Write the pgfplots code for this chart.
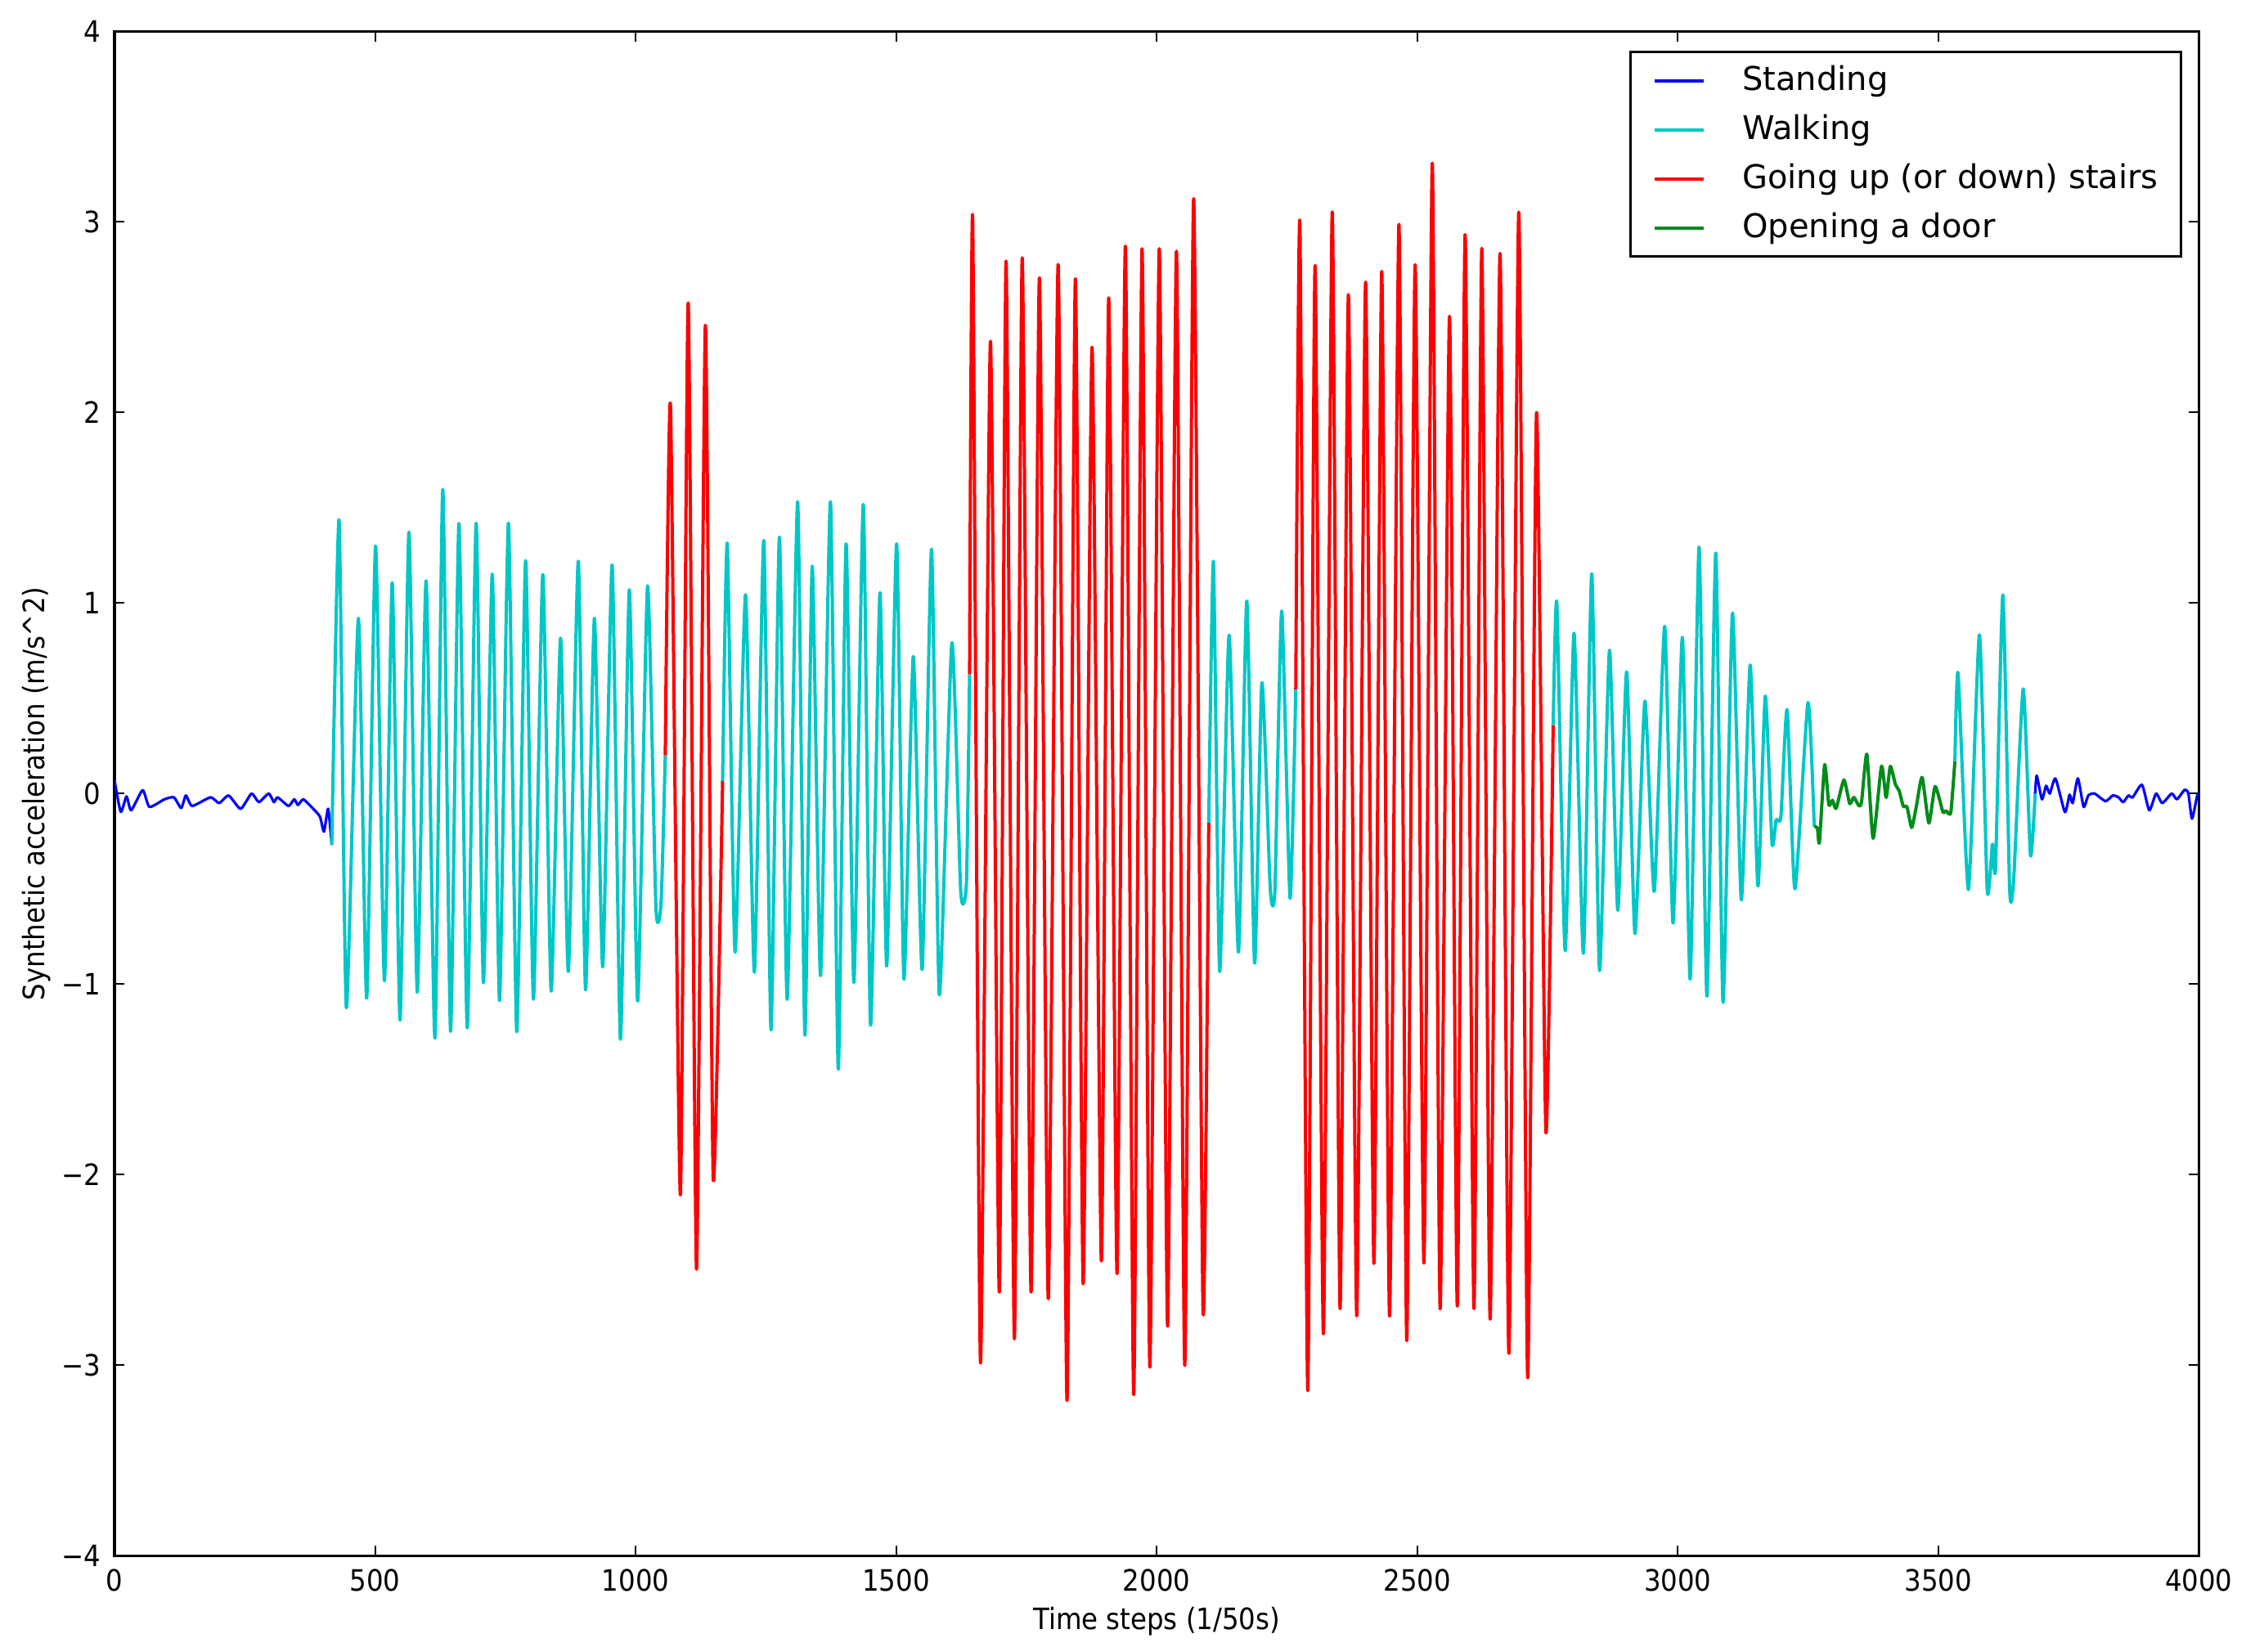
\documentclass[border=0pt]{standalone}
\usepackage{fontspec}
\setmainfont{DejaVu Sans}
\newfontfamily\condfont{DejaVu Sans Condensed}
\usepackage{pgfplots}
\pgfplotsset{compat=1.18}
\definecolor{mplblue}{rgb}{0,0,1}
\definecolor{mplcyan}{rgb}{0,0.78,0.78}
\definecolor{mplred}{rgb}{1,0,0}
\definecolor{mplgreen}{rgb}{0,0.55,0.1}
\begin{document}
\begin{tikzpicture}
\path[use as bounding box] (-35pt,-29.25pt) rectangle (651.48pt,475.53pt);
\begin{axis}[
  scale only axis,
  width=637.05pt, height=465.9pt,
  xmin=0, xmax=4000, ymin=-4, ymax=4,
  xtick={0,500,1000,1500,2000,2500,3000,3500,4000},
  xticklabels={0,500,1000,1500,2000,2500,3000,3500,4000},
  ytick={-4,-3,-2,-1,0,1,2,3,4},
  yticklabels={−4,−3,−2,−1,0,1,2,3,4},
  tick align=inside,
  major tick length=3pt,
  tick style={black, line width=0.5pt},
  axis line style={black, line width=0.8pt},
  tick label style={font=\condfont\fontsize{9}{10}\selectfont, black},
  xticklabel style={yshift=-0.5pt},
  yticklabel style={xshift=-0.75pt},
  label style={font=\condfont\fontsize{9}{10}\selectfont, black},
  xlabel={Time steps (1/50s)},
  ylabel={Synthetic acceleration (m/s\textasciicircum 2)},
  xlabel style={at={(axis description cs:0.5,0)}, anchor=base, yshift=-22.5pt},
  ylabel style={at={(axis description cs:0,0.5)}, anchor=base, yshift=21.25pt},
  legend style={
    at={(1,1)}, anchor=north east, xshift=-5pt, yshift=-5.9pt,
    draw=black, line width=0.8pt, fill=white,
    inner xsep=7pt, inner ysep=4.2pt,
    font=\fontsize{10}{12}\selectfont,
    nodes={inner sep=0pt},
    row sep=5.9pt,
    /tikz/every odd column/.append style={column sep=11.25pt},
  },
  legend cell align=left,
  legend image code/.code={\draw[#1, line width=1pt] (0pt,0pt) -- (15pt,0pt);},
  every axis plot/.append style={smooth, tension=0.35, line width=1pt, line join=round},
]
% Standing (1)
\addplot[mplblue, line width=0.8pt] coordinates {
(0,0.07) (12,-0.096) (23,-0.015) (32,-0.088) (54,0.018) (67,-0.07) (96,-0.03) (114,-0.02) (128,-0.076) (137,-0.01) (149,-0.065) (184,-0.02) (201,-0.05) (219,-0.01) (242,-0.08) (263,0.0) (277,-0.045) (296,0.0) (306,-0.045) (313,-0.02) (334,-0.065) (345,-0.03) (352,-0.06) (362,-0.03) (376,-0.065) (394,-0.12) (402,-0.2) (410,-0.08) (417,-0.27)
};
\addlegendentry{Standing}
% Walking (1)
\addplot[mplcyan] coordinates {
(417,-0.27) (431,1.435) (445,-1.124) (468,0.92) (484,-1.074) (501,1.30) (518,-0.983) (533,1.107) (548,-1.19) (565,1.373) (581,-1.043) (598,1.117) (615,-1.284) (630,1.597) (645,-1.249) (661,1.418) (677,-1.23) (694,1.42) (708,-0.993) (725,1.152) (739,-1.087) (756,1.42) (772,-1.25) (789,1.223) (804,-1.08) (822,1.15) (838,-1.037) (856,0.816) (871,-0.934) (890,1.22) (904,-1.03) (921,0.92) (937,-0.91) (955,1.20) (971,-1.29) (988,1.07) (1004,-1.09) (1023,1.09) (1039,-0.594) (1049,-0.57) (1057,0.2)
};
\addlegendentry{Walking}
% Stairs (1)
\addplot[mplred] coordinates {
(1057,0.2) (1067,2.034) (1086,-2.106) (1101,2.575) (1117,-2.497) (1134,2.458) (1149,-2.017) (1167,0.065)
};
\addlegendentry{Going up (or down) stairs}
% Walking (2)
\addplot[mplcyan, forget plot] coordinates {
(1167,0.065) (1176,1.311) (1191,-0.832) (1211,1.044) (1228,-0.938) (1246,1.329) (1260,-1.241) (1276,1.347) (1291,-1.081) (1311,1.532) (1325,-1.269) (1339,1.194) (1355,-0.956) (1374,1.532) (1389,-1.447) (1404,1.311) (1419,-0.992) (1437,1.518) (1451,-1.216) (1469,1.055) (1482,-0.906) (1501,1.311) (1515,-0.974) (1533,0.72) (1550,-0.924) (1568,1.283) (1583,-1.056) (1607,0.79) (1624,-0.513) (1635,-0.465) (1641,0.626)
};
% Stairs (2)
\addplot[mplred, forget plot] coordinates {
(1641,0.626) (1647,3.009) (1662,-2.989) (1681,2.374) (1698,-2.617) (1711,2.795) (1727,-2.862) (1742,2.812) (1759,-2.617) (1775,2.707) (1792,-2.652) (1811,2.777) (1828,-3.186) (1844,2.702) (1859,-2.573) (1876,2.343) (1894,-2.454) (1908,2.602) (1924,-2.52) (1940,2.873) (1956,-3.155) (1972,2.86) (1987,-3.011) (2005,2.86) (2021,-2.796) (2038,2.847) (2054,-3.002) (2071,3.123) (2089,-2.713) (2100,-0.154)
};
% Walking (3)
\addplot[mplcyan, forget plot] coordinates {
(2100,-0.154) (2109,1.217) (2121,-0.934) (2139,0.832) (2157,-0.833) (2173,1.011) (2188,-0.89) (2202,0.582) (2218,-0.496) (2227,-0.50) (2240,0.958) (2256,-0.549) (2267,0.547)
};
% Stairs (3)
\addplot[mplred, forget plot] coordinates {
(2267,0.547) (2275,2.979) (2290,-3.134) (2304,2.772) (2320,-2.836) (2337,3.053) (2352,-2.704) (2368,2.619) (2384,-2.742) (2401,2.685) (2417,-2.467) (2432,2.741) (2447,-2.743) (2465,2.988) (2480,-2.872) (2496,2.776) (2513,-2.465) (2529,3.309) (2544,-2.704) (2562,2.505) (2577,-2.691) (2592,2.934) (2609,-2.704) (2624,2.862) (2640,-2.759) (2659,2.835) (2676,-2.939) (2695,3.052) (2712,-3.066) (2729,1.999) (2747,-1.774) (2761,0.359)
};
% Walking (4)
\addplot[mplcyan, forget plot] coordinates {
(2761,0.359) (2768,1.0) (2784,-0.825) (2801,0.842) (2819,-0.839) (2835,1.154) (2850,-0.929) (2869,0.752) (2885,-0.613) (2902,0.639) (2918,-0.735) (2937,0.485) (2955,-0.513) (2975,0.878) (2991,-0.68) (3009,0.82) (3024,-0.974) (3041,1.294) (3056,-1.064) (3073,1.263) (3087,-1.096) (3105,0.946) (3122,-0.558) (3139,0.675) (3154,-0.485) (3168,0.512) (3181,-0.26) (3189,-0.137) (3198,-0.12) (3210,0.44) (3225,-0.5) (3250,0.478) (3262,-0.174)
};
% Opening a door
\addplot[mplgreen] coordinates {
(3262,-0.174) (3268,-0.18) (3272,-0.255) (3282,0.152) (3290,-0.059) (3297,-0.035) (3304,-0.078) (3319,0.071) (3330,-0.053) (3338,-0.02) (3348,-0.065) (3353,-0.04) (3363,0.206) (3375,-0.235) (3391,0.143) (3400,-0.021) (3408,0.143) (3418,0.046) (3425,0.015) (3433,-0.067) (3440,-0.07) (3449,-0.178) (3458,-0.067) (3469,0.085) (3482,-0.155) (3494,0.037) (3509,-0.097) (3515,-0.09) (3524,-0.10) (3532,0.171)
};
\addlegendentry{Opening a door}
% Walking (5)
\addplot[mplcyan, forget plot] coordinates {
(3532,0.171) (3538,0.631) (3558,-0.504) (3579,0.833) (3594,-0.509) (3604,-0.266) (3610,-0.385) (3624,1.043) (3637,-0.5) (3645,-0.44) (3663,0.549) (3677,-0.323) (3686,0.0)
};
% Standing (2)
\addplot[mplblue, line width=0.8pt, forget plot] coordinates {
(3686,0.0) (3689,0.094) (3699,-0.03) (3707,0.041) (3714,0.0) (3725,0.079) (3743,-0.097) (3752,-0.006) (3758,-0.05) (3768,0.08) (3779,-0.07) (3788,-0.01) (3800,0.0) (3821,-0.04) (3835,-0.01) (3846,-0.02) (3855,-0.045) (3865,-0.01) (3873,-0.02) (3891,0.046) (3905,-0.088) (3918,0.0) (3930,-0.05) (3948,0.0) (3958,-0.03) (3973,0.02) (3980,0.0) (3987,-0.132) (3997,-0.01) (4000,0.0)
};
\end{axis}
\end{tikzpicture}
\end{document}
